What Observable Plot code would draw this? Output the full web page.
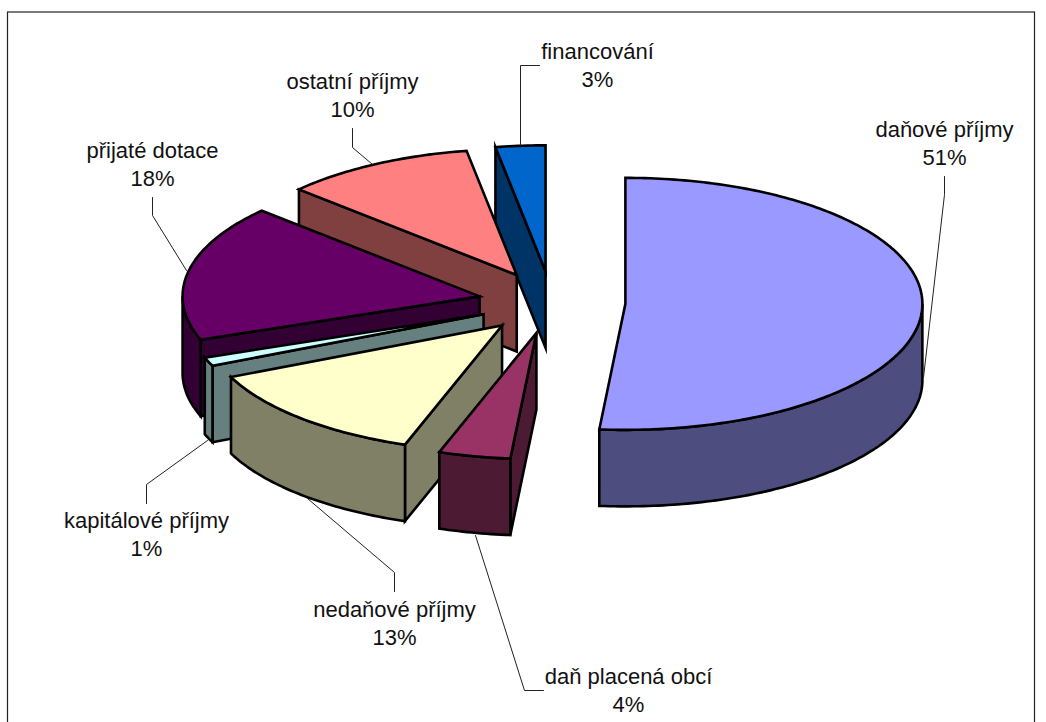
<!DOCTYPE html>
<html><head><meta charset="utf-8">
<script src="https://cdn.jsdelivr.net/npm/d3@7"></script>
<script src="https://cdn.jsdelivr.net/npm/@observablehq/plot@0.6"></script>
<style>html,body{margin:0;padding:0;background:#fff;overflow:hidden}svg{display:block}</style>
</head><body><div id="chart"></div>
<script>
// Data
const categories = ["daňové příjmy","daň placená obcí","nedaňové příjmy","kapitálové příjmy","přijaté dotace","ostatní příjmy","financování"];
const shares     = [51.4, 3.9, 13.0, 1.1, 17.5, 10.4, 2.7];
const percents   = [51, 4, 13, 1, 18, 10, 3];
const topColors  = ["#9999FF","#993366","#FFFFCC","#CCFFFF","#660066","#FF8080","#0066CC"];
const sideColors = ["#4D4D80","#4D1A33","#808066","#668080","#330033","#804040","#003366"];

// Pie layout (3-D projection of the disc)
const W = 1046, H = 722;
const pieCenter = {x: 551.3, y: 302}, rx = 297, ry = 126, depth = 76.5, explode = 0.248;
const paintOrder = [6, 5, 4, 3, 2, 1, 0];

// Label layout: centre of text, first baseline, leader-line path
const labelX = [944, 628, 394, 146, 152, 352, 597];
const labelY = [136, 683, 616, 527, 157, 88, 58];
const leaders = [
  [[944,176],[944,194],[923,377]],
  [[543,690],[524,690],[475,535]],
  [[394,591],[394,572],[307,498]],
  [[146,503],[146,484],[207,440]],
  [[152,197],[152,215],[186,270]],
  [[352,128],[352,147],[372,164]],
  [[520,145],[520,65],[539,65]]
];

// Geometry from the values
const arcs = d3.pie().sort(null).value(d => d)(shares);
const polys = [];
function addPoly(id, color, pts){ pts.forEach(p => polys.push({id, color, x:p[0], y:p[1]})); }
const down = ([x,y]) => [x, y + depth];

paintOrder.forEach(i => {
  const a0 = arcs[i].startAngle, a1 = arcs[i].endAngle, mid = (a0 + a1) / 2;
  const apex = [pieCenter.x + explode*rx*Math.sin(mid), pieCenter.y - explode*ry*Math.cos(mid)];
  const at = t => [apex[0] + rx*Math.sin(t), apex[1] - ry*Math.cos(t)];
  const arcPts = (s, e) => d3.range(0, 1.0001, 1/Math.max(2, Math.ceil((e-s)*60))).map(f => at(s + (e-s)*f));
  // radial cut faces turned to the viewer
  const inner = [Math.sin(mid), -Math.cos(mid)];
  [a0, a1].forEach((t, k) => {
    const e = [Math.sin(t)*rx, -Math.cos(t)*ry];
    const side = e[0]*inner[1]*ry - e[1]*inner[0]*rx;
    const view = e[0];
    if (Math.abs(view) > 1e-6 && side*view < 0) {
      const q = at(t);
      addPoly(`f${i}-${k}`, sideColors[i], [apex, q, down(q), down(apex)]);
    }
  });
  // outer wall (front half of the rim only)
  const s = Math.max(a0, Math.PI/2), e = Math.min(a1, 3*Math.PI/2);
  if (e > s) {
    const rim = arcPts(s, e);
    addPoly(`w${i}`, sideColors[i], [...rim, ...rim.map(down).reverse()]);
  }
  // top face
  addPoly(`t${i}`, topColors[i], [apex, ...arcPts(a0, a1)]);
});

const leaderRows = leaders.flatMap((path, i) => path.map(([x,y]) => ({i, x, y})));
const labels = categories.map((c, i) => ({x: labelX[i], y: labelY[i], text: c, pct: percents[i] + "%"}));

const chart = Plot.plot({
  width: W, height: H, margin: 0,
  x: {domain:[0,W], range:[0,W], axis:null},
  y: {domain:[0,H], range:[0,H], axis:null},
  marks: [
    Plot.rect([{x1:7.5,x2:1034.5,y1:12,y2:740}], {x1:"x1",x2:"x2",y1:"y1",y2:"y2",fill:"white",stroke:"#222",strokeWidth:1.2,clip:true}),
    Plot.line(polys, {x:"x", y:"y", z:"id", fill:"color", stroke:"black", strokeWidth:2.6, curve:"linear-closed", strokeLinejoin:"miter", strokeMiterlimit:6}),
    Plot.line(leaderRows, {x:"x", y:"y", z:"i", stroke:"#222", strokeWidth:1, curve:"linear", strokeLinejoin:"miter"}),
    Plot.text(labels, {x:"x", y:"y", text:"text", fill:"#111", fontSize:22, fontFamily:"Liberation Sans", textAnchor:"middle", lineAnchor:"bottom"}),
    Plot.text(labels, {x:"x", y:"y", text:"pct", fill:"#111", fontSize:22, fontFamily:"Liberation Sans", textAnchor:"middle", lineAnchor:"bottom", dy:28.5})
  ]
});
document.getElementById("chart").append(chart);
</script></body></html>
